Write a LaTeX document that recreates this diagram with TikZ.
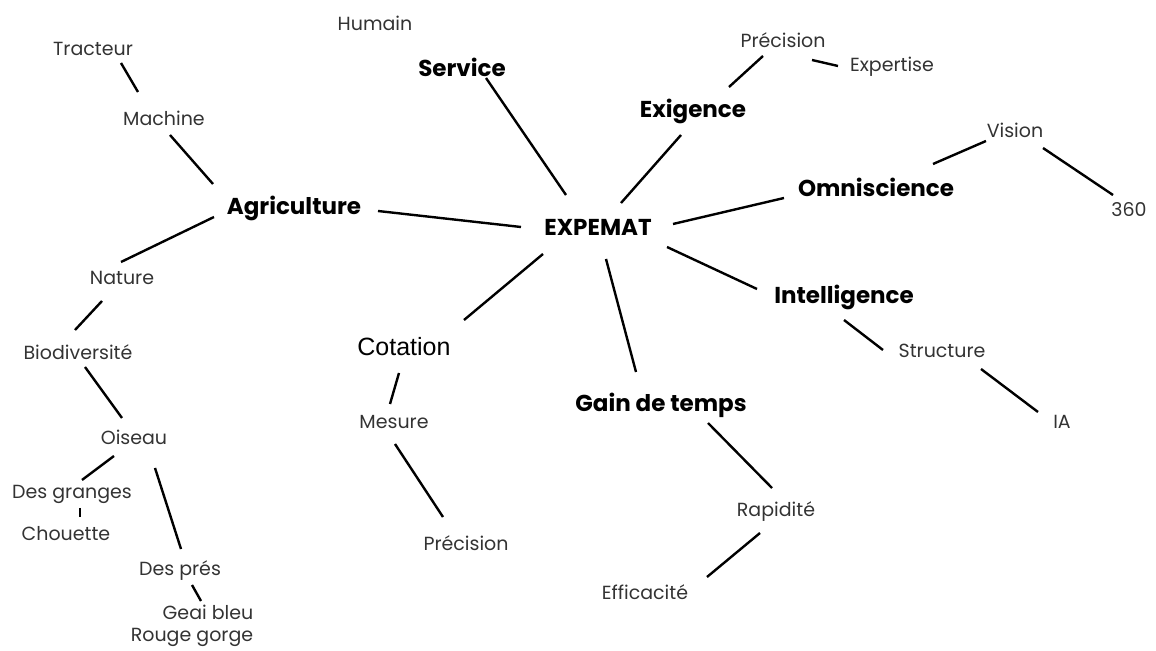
\documentclass[tikz,border=0pt]{standalone}
\usepackage{fontspec}
\setmainfont{Poppins}
\newfontfamily\cotfont{Liberation Sans}

\begin{document}
\begin{tikzpicture}[
  x=0.5pt,y=-0.5pt,
  big/.style={font=\fontsize{11.5}{13}\selectfont\bfseries,inner sep=4pt},
  leaf/.style={font=\fontsize{9.5}{11}\selectfont,text=black!80,inner sep=4pt},
  cot/.style={font=\fontsize{12.5}{14}\cotfont,inner sep=4pt},
  lnk/.style={line width=1.2pt}
]
\useasboundingbox (0,0) rectangle (1156,651);
% centre
\node[big] (exp) at (598,227) {EXPEMAT};
% branches
\node[big] (agr) at (294,208) {Agriculture};
\node[big] (ser) at (462,67) {Service};
\node[big] (exi) at (693,111) {Exigence};
\node[big] (omn) at (876,187) {Omniscience};
\node[big] (int) at (844,297) {Intelligence};
\node[big] (gdt) at (661,405) {Gain de temps};
\node[cot] (cot) at (404,347) {Cotation};
% leaves
\node[leaf] (hum) at (375,23) {Humain};
\node[leaf] (tra) at (93,49) {Tracteur};
\node[leaf] (mac) at (164,118) {Machine};
\node[leaf] (nat) at (122,278) {Nature};
\node[leaf] (bio) at (78,352) {Biodiversité};
\node[leaf] (ois) at (134,437) {Oiseau};
\node[leaf] (gra) at (72,494) {Des granges};
\node[leaf] (cho) at (66,534) {Chouette};
\node[leaf] (pre) at (180,571) {Des prés};
\node[leaf] (gea) at (208,612) {Geai bleu};
\node[leaf] (rou) at (192,637) {Rouge gorge};
\node[leaf] (prc) at (783,40) {Précision};
\node[leaf] (exs) at (892,67) {Expertise};
\node[leaf] (vis) at (1015,130) {Vision};
\node[leaf] (tsx) at (1129,210) {360};
\node[leaf] (str) at (942,351) {Structure};
\node[leaf] (ia) at (1062,422) {IA};
\node[leaf] (mes) at (394,422) {Mesure};
\node[leaf] (prm) at (466,543) {Précision};
\node[leaf] (rap) at (776,512) {Rapidité};
\node[leaf] (eff) at (645,592) {Efficacité};
% connectors round the centre
\draw[lnk] ([shift={(84,3)}]agr.center) -- ([shift={(-77,0)}]exp.center);
\draw[lnk] ([shift={(24,11)}]ser.center) -- ([shift={(-32,-32)}]exp.center);
\draw[lnk] ([shift={(-12,24)}]exi.center) -- ([shift={(23,-24)}]exp.center);
\draw[lnk] ([shift={(75,-3)}]exp.center) -- ([shift={(-92,11)}]omn.center);
\draw[lnk] ([shift={(69,20)}]exp.center) -- ([shift={(-87,-8)}]int.center);
\draw[lnk] ([shift={(8,32)}]exp.center) -- ([shift={(-25,-33)}]gdt.center);
\draw[lnk] ([shift={(-55,27)}]exp.center) -- ([shift={(60,-27)}]cot.center);
% left side
\draw[lnk] ([shift={(28,14)}]tra.center) -- ([shift={(-26,-26)}]mac.center);
\draw[lnk] ([shift={(6,17)}]mac.center) -- ([shift={(-81,-24)}]agr.center);
\draw[lnk] ([shift={(-80,9)}]agr.center) -- ([shift={(-1,-16)}]nat.center);
\draw[lnk] ([shift={(-20,23)}]nat.center) -- ([shift={(-3,-22)}]bio.center);
\draw[lnk] ([shift={(7,15)}]bio.center) -- ([shift={(-12,-19)}]ois.center);
\draw[lnk] ([shift={(-20,19)}]ois.center) -- ([shift={(10,-14)}]gra.center);
\draw[lnk] ([shift={(8,14)}]gra.center) -- ([shift={(14,-17)}]cho.center);
\draw[lnk] ([shift={(21,31)}]ois.center) -- ([shift={(1,-22)}]pre.center);
\draw[lnk] ([shift={(12,14)}]pre.center) -- ([shift={(-7,-11)}]gea.center);
% right side
\draw[lnk] ([shift={(36,-24)}]exi.center) -- ([shift={(-20,16)}]prc.center);
\draw[lnk] ([shift={(29,20)}]prc.center) -- ([shift={(-54,-1)}]exs.center);
\draw[lnk] ([shift={(57,-23)}]omn.center) -- ([shift={(-29,11)}]vis.center);
\draw[lnk] ([shift={(28,18)}]vis.center) -- ([shift={(-16,-15)}]tsx.center);
\draw[lnk] ([shift={(0,23)}]int.center) -- ([shift={(-59,-1)}]str.center);
\draw[lnk] ([shift={(39,18)}]str.center) -- ([shift={(-24,-10)}]ia.center);
% bottom
\draw[lnk] ([shift={(-5,26)}]cot.center) -- ([shift={(-4,-18)}]mes.center);
\draw[lnk] ([shift={(1,22)}]mes.center) -- ([shift={(-23,-26)}]prm.center);
\draw[lnk] ([shift={(47,18)}]gdt.center) -- ([shift={(-4,-24)}]rap.center);
\draw[lnk] ([shift={(-16,21)}]rap.center) -- ([shift={(62,-15)}]eff.center);
\end{tikzpicture}
\end{document}
